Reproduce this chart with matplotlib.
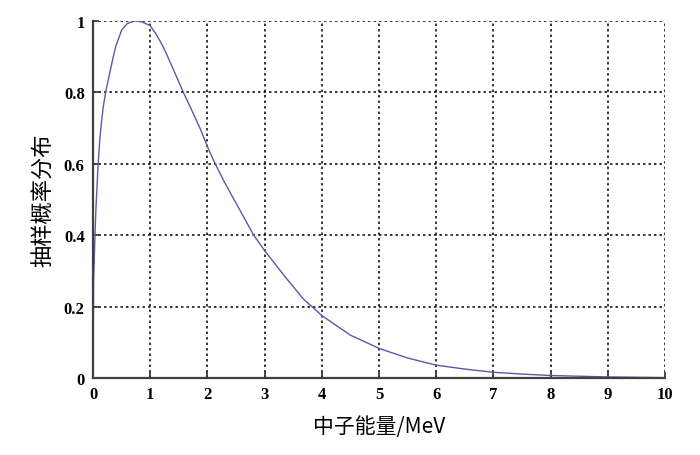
import matplotlib
matplotlib.use('Agg')
import matplotlib.pyplot as plt

# 读图得到的曲线点 (中子能量 MeV, 归一化概率)
energy = [0, 0.01, 0.035, 0.05, 0.09, 0.12, 0.15, 0.18, 0.22, 0.3, 0.355, 0.4,
          0.5, 0.6, 0.73, 0.85, 1.0, 1.1, 1.2, 1.29, 1.4, 1.58, 1.75, 1.87,
          2.0, 2.13, 2.3, 2.5, 2.81, 3.0, 3.35, 3.68, 4.0, 4.5, 5.0,
          5.5, 6.0, 6.5, 7.0, 7.5, 8.0, 9.0, 10.0]
prob = [0, 0.27, 0.4, 0.47, 0.6, 0.67, 0.72, 0.76, 0.8, 0.86, 0.9, 0.93,
        0.974, 0.993, 1.0, 0.998, 0.987, 0.964, 0.936, 0.906, 0.866, 0.8, 0.742, 0.7,
        0.648, 0.602, 0.548, 0.49, 0.4, 0.357, 0.285, 0.221, 0.175, 0.12, 0.083,
        0.056, 0.036, 0.025, 0.016, 0.011, 0.007, 0.003, 0.001]

x_ticks = list(range(0, 11))
y_ticks = [0, 0.2, 0.4, 0.6, 0.8, 1]
y_tick_labels = ['0', '0.2', '0.4', '0.6', '0.8', '1']

fig = plt.figure(figsize=(7, 4.56), dpi=100)
ax = fig.add_axes([93 / 700, 1 - 379 / 456, (665 - 93) / 700, (379 - 22) / 456])

ax.plot(energy, prob, color='#5a5aa6', linewidth=1.0, zorder=3)

ax.set_xlim(0, 10)
ax.set_ylim(0, 1)
ax.set_xticks(x_ticks)
ax.set_yticks(y_ticks)
ax.set_yticklabels(y_tick_labels)

# 网格为黑色点线
ax.grid(True, color='black', linestyle=(0, (1.6, 2.0)), linewidth=1.1)
ax.set_axisbelow(True)

for side in ['top', 'right']:
    ax.spines[side].set_visible(False)
for side in ['left', 'bottom']:
    ax.spines[side].set_color('#404040')
    ax.spines[side].set_linewidth(1.6)
    ax.spines[side].set_zorder(4)

ax.tick_params(direction='in', length=4, width=1.2, colors='#303030',
               labelcolor='black', pad=6)
for lab in ax.get_xticklabels() + ax.get_yticklabels():
    lab.set_family(['Liberation Serif', 'DejaVu Serif'])
    lab.set_fontsize(12)
    lab.set_fontweight('bold')

ax.set_xlabel('中子能量/MeV', family=['Noto Sans CJK SC', 'DejaVu Sans'],
              fontsize=15, fontweight='medium', labelpad=9)
ax.set_ylabel('抽样概率分布', family=['Noto Sans CJK SC', 'DejaVu Sans'],
              fontsize=16, fontweight='medium', labelpad=6)

plt.savefig('out.png', dpi=100)
